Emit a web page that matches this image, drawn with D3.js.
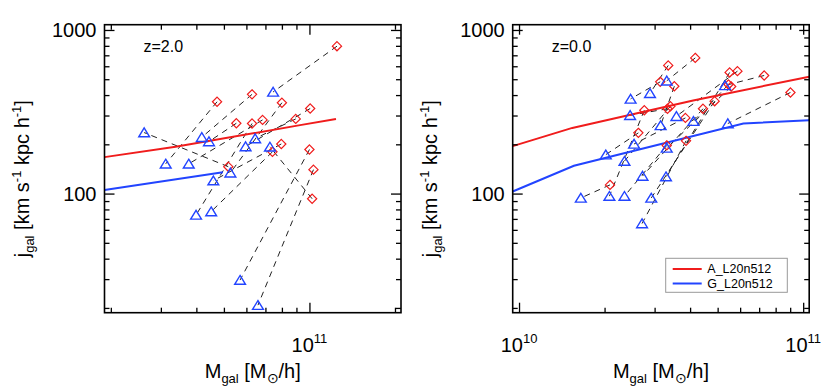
<!doctype html>
<html lang="en">
<head>
<meta charset="utf-8">
<title>j_gal vs M_gal</title>
<style>
body { margin: 0; background: #fff; }
svg { display: block; font-family: "Liberation Sans", Arial, Helvetica, sans-serif; }
.frame { fill: none; stroke: #000; stroke-width: 1.6px; }
.tick line { stroke: #000; stroke-width: 1.3px; }
.pair { fill: none; stroke: #222; stroke-width: 1px; stroke-dasharray: 6,5; }
.dia { fill: none; stroke: #f01c1c; stroke-width: 1.2px; }
.tri { fill: none; stroke: #2244ff; stroke-width: 1.4px; }
.med { fill: none; stroke-width: 2px; }
</style>
</head>
<body>
<script src="https://cdn.jsdelivr.net/npm/d3@7"></script>
<svg width="830" height="389"></svg>
<script>
// masses in units of 1e10 Msun/h, j in km/s kpc/h; index i of A and G is the same galaxy
var z2_mA = [12.5, 4.73, 5.18, 6.28, 10.0, 10.33, 10.22, 7.41, 8.95, 10.06, 6.28, 7.96, 8.0, 5.53, 6.84];
var z2_jA = [796, 364, 146, 404, 186, 140, 93, 180, 286, 331, 268, 201, 359, 269, 282];
var z2_mG = [7.45, 3.12, 2.62, 4.18, 5.70, 6.59, 7.26, 4.51, 6.44, 5.96, 3.99, 4.59, 5.27, 4.43, 3.76];
var z2_jG = [418, 152, 236, 221, 29.6, 20.8, 193, 77.6, 217, 194, 74, 120, 134, 208, 152];
var z2_medA_m = [1.9, 3.38, 9.27, 12.4];
var z2_medA_j = [167, 193, 262, 286];
var z2_medG_m = [1.9, 4.96];
var z2_medG_j = [105, 135];

var z0_mA = [2.09, 2.63, 2.76, 3.41, 3.31, 3.33, 3.14, 3.35, 4.17, 3.85, 3.87, 4.44, 4.88, 3.52, 5.51, 5.58, 5.87, 5.46, 7.29, 9.02];
var z0_jA = [113, 235, 323, 342, 197, 330, 482, 607, 675, 290, 210, 330, 367, 453, 550, 451, 560, 464, 527, 415];
var z0_mG = [1.65, 2.02, 2.08, 2.35, 2.35, 2.46, 2.47, 2.89, 3.31, 2.54, 2.71, 2.72, 2.92, 3.15, 3.29, 3.31, 3.58, 4.11, 5.31, 5.43];
var z0_jG = [94, 173, 96.5, 158, 96.5, 301, 379, 410, 489, 201, 65.6, 128, 94, 261, 127, 190, 297, 277, 458, 268];
var z0_medA_m = [0.95, 1.54, 4.1, 10.5];
var z0_medA_j = [195, 252, 371, 518];
var z0_medG_m = [0.95, 1.56, 6.16, 10.5];
var z0_medG_j = [103, 148, 268, 281];

var seriesNames = ["A_L20n512", "G_L20n512"];
var colA = "#f01c1c", colG = "#2244ff";

var yMajor = [100, 1000];
var yMinor = [20, 30, 40, 50, 60, 70, 80, 90, 200, 300, 400, 500, 600, 700, 800, 900];

var svg = d3.select("svg");
var y = d3.scaleLog().domain([18.7, 1077]).range([312.7, 24.7]);

var panels = [
  { label: "z=2.0", xDomain: [1.9e10, 2.1e11], xRange: [104.5, 401],
    xMajor: [1e11], xMinor: [2e10, 3e10, 4e10, 5e10, 6e10, 7e10, 8e10, 9e10, 2e11],
    mA: z2_mA, jA: z2_jA, mG: z2_mG, jG: z2_jG,
    medA: [z2_medA_m, z2_medA_j], medG: [z2_medG_m, z2_medG_j], legend: false },
  { label: "z=0.0", xDomain: [0.95e10, 1.05e11], xRange: [512.7, 809.2],
    xMajor: [1e10, 1e11], xMinor: [2e10, 3e10, 4e10, 5e10, 6e10, 7e10, 8e10, 9e10],
    mA: z0_mA, jA: z0_jA, mG: z0_mG, jG: z0_jG,
    medA: [z0_medA_m, z0_medA_j], medG: [z0_medG_m, z0_medG_j], legend: true }
];

var diamond = "M0,-4.6L4.6,0L0,4.6L-4.6,0Z";
var triangle = "M0,-4.6L5.4,4.2L-5.4,4.2Z";

panels.forEach(function(p, pi) {
  var x = d3.scaleLog().domain(p.xDomain).range(p.xRange);
  var x0 = p.xRange[0], x1 = p.xRange[1], yt = y.range()[1], yb = y.range()[0];
  var g = svg.append("g");

  g.append("clipPath").attr("id", "clip" + pi)
    .append("rect").attr("x", x0).attr("y", yt).attr("width", x1 - x0).attr("height", yb - yt);
  var plot = g.append("g").attr("clip-path", "url(#clip" + pi + ")");

  // dashed pair connectors
  var idx = d3.range(p.mA.length);
  plot.selectAll("line.pair").data(idx).enter().append("line")
    .attr("class", "pair")
    .attr("x1", i => x(p.mA[i] * 1e10)).attr("y1", i => y(p.jA[i]))
    .attr("x2", i => x(p.mG[i] * 1e10)).attr("y2", i => y(p.jG[i]));

  // median lines
  var line = d3.line().x(d => x(d[0] * 1e10)).y(d => y(d[1]));
  plot.append("path").attr("class", "med").attr("stroke", colA)
    .attr("d", line(d3.zip(p.medA[0], p.medA[1])));
  plot.append("path").attr("class", "med").attr("stroke", colG)
    .attr("d", line(d3.zip(p.medG[0], p.medG[1])));

  plot.selectAll("path.dia").data(idx).enter().append("path")
    .attr("class", "dia").attr("d", diamond)
    .attr("transform", i => "translate(" + x(p.mA[i] * 1e10) + "," + y(p.jA[i]) + ")");
  plot.selectAll("path.tri").data(idx).enter().append("path")
    .attr("class", "tri").attr("d", triangle)
    .attr("transform", i => "translate(" + x(p.mG[i] * 1e10) + "," + y(p.jG[i]) + ")");

  // ticks on all four sides, pointing inward
  function ax(gen, vals, len, tr) {
    var a = g.append("g").attr("transform", tr)
      .call(gen.tickValues(vals).tickSize(-len).tickFormat(""));
    a.select(".domain").remove();
  }
  ax(d3.axisBottom(x), p.xMajor, 10, "translate(0," + yb + ")");
  ax(d3.axisBottom(x), p.xMinor, 5, "translate(0," + yb + ")");
  ax(d3.axisTop(x), p.xMajor, 10, "translate(0," + yt + ")");
  ax(d3.axisTop(x), p.xMinor, 5, "translate(0," + yt + ")");
  ax(d3.axisLeft(y), yMajor, 10, "translate(" + x0 + ",0)");
  ax(d3.axisLeft(y), yMinor, 5, "translate(" + x0 + ",0)");
  ax(d3.axisRight(y), yMajor, 10, "translate(" + x1 + ",0)");
  ax(d3.axisRight(y), yMinor, 5, "translate(" + x1 + ",0)");

  g.append("rect").attr("class", "frame")
    .attr("x", x0).attr("y", yt).attr("width", x1 - x0).attr("height", yb - yt);

  // tick labels
  p.xMajor.forEach(function(v) {
    var t = g.append("text").attr("x", x(v)).attr("y", 352)
      .attr("text-anchor", "middle").style("font-size", "20px");
    t.append("tspan").text("10");
    t.append("tspan").attr("dy", -9).style("font-size", "13px").text(Math.round(Math.log10(v)));
  });
  yMajor.forEach(function(v) {
    g.append("text").attr("x", x0 - 8).attr("y", y(v)).attr("dy", "0.36em")
      .attr("text-anchor", "end").style("font-size", "20px").text(v);
  });

  // axis titles
  var xt = g.append("text").attr("x", (x0 + x1) / 2).attr("y", 378)
    .attr("text-anchor", "middle").style("font-size", "20px");
  xt.append("tspan").text("M");
  xt.append("tspan").attr("dy", 5).style("font-size", "13px").text("gal");
  xt.append("tspan").attr("dy", -5).text(" [M");
  xt.append("tspan").attr("dy", 5).style("font-size", "14px").text("\u2299");
  xt.append("tspan").attr("dy", -5).text("/h]");

  var yl = g.append("text")
    .attr("transform", "translate(" + (x0 - 76) + "," + ((yt + yb) / 2 + 10) + ") rotate(-90)")
    .attr("text-anchor", "middle").style("font-size", "20px");
  yl.append("tspan").text("j");
  yl.append("tspan").attr("dy", 5).style("font-size", "13px").text("gal");
  yl.append("tspan").attr("dy", -5).text(" [km s");
  yl.append("tspan").attr("dy", -8).style("font-size", "13px").text("-1");
  yl.append("tspan").attr("dy", 8).text(" kpc h");
  yl.append("tspan").attr("dy", -8).style("font-size", "13px").text("-1");
  yl.append("tspan").attr("dy", 8).text("]");

  g.append("text").attr("x", x0 + 39).attr("y", 52).style("font-size", "16px").text(p.label);

  if (p.legend) {
    var lg = g.append("g");
    lg.append("rect").attr("x", 665.7).attr("y", 258.3).attr("width", 121.6).attr("height", 34)
      .attr("fill", "#fff").attr("stroke", "#999").attr("stroke-width", 1);
    [colA, colG].forEach(function(c, k) {
      var yy = 269 + k * 14.5;
      lg.append("line").attr("x1", 672.7).attr("x2", 701.7).attr("y1", yy).attr("y2", yy)
        .attr("stroke", c).attr("stroke-width", 2);
      lg.append("text").attr("x", 707.3).attr("y", yy).attr("dy", "0.35em")
        .style("font-size", "12.5px").text(seriesNames[k]);
    });
  }
});
</script>
</body>
</html>
